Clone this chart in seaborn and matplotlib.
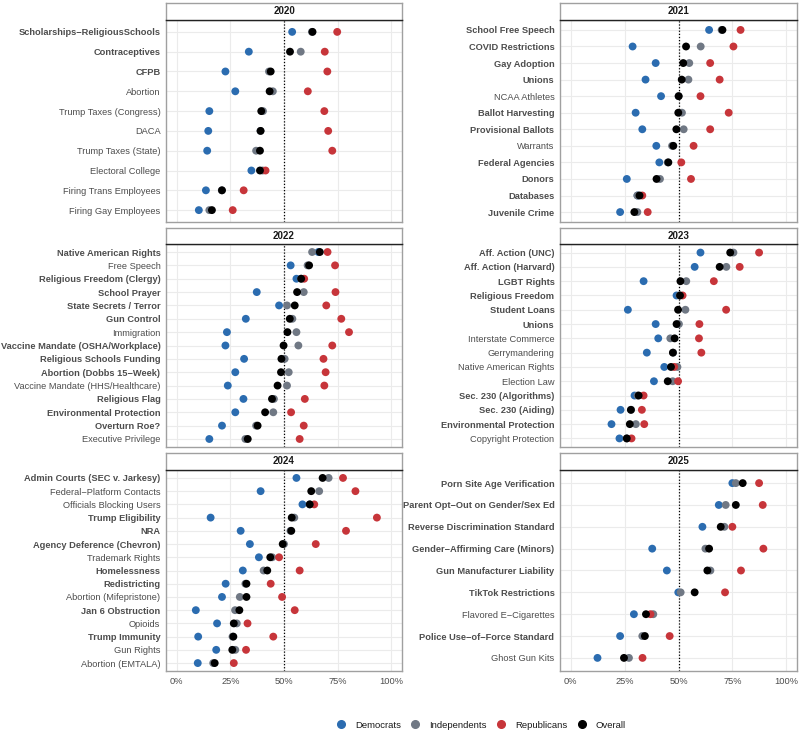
import numpy as np
import pandas as pd
import matplotlib
matplotlib.use("Agg")
import matplotlib.pyplot as plt
from matplotlib.lines import Line2D
import seaborn as sns

sns.set_style("white")
plt.rcParams['font.family'] = ['Liberation Sans', 'DejaVu Sans']

# ---- data (share supporting, %), items listed top to bottom ----
cases_2020 = ["Scholarships\u2212ReligiousSchools", "Contraceptives", "CFPB", "Abortion",
              "Trump Taxes (Congress)", "DACA", "Trump Taxes (State)", "Electoral College",
              "Firing Trans Employees", "Firing Gay Employees"]
bold_2020 = [1, 1, 1, 0, 0, 0, 0, 0, 0, 0]
dem_2020 = [53.8, 33.6, 22.7, 27.3, 15.2, 14.7, 14.2, 34.8, 13.6, 10.3]
ind_2020 = [63.0, 57.8, 43.0, 44.8, 40.2, 39.0, 37.0, 40.0, 21.0, 15.2]
rep_2020 = [74.8, 69.0, 70.2, 61.1, 68.8, 70.6, 72.5, 41.4, 31.2, 26.1]
all_2020 = [63.3, 52.8, 43.8, 43.3, 39.4, 39.1, 38.8, 38.8, 21.1, 16.4]

cases_2021 = ["School Free Speech", "COVID Restrictions", "Gay Adoption", "Unions",
              "NCAA Athletes", "Ballot Harvesting", "Provisional Ballots", "Warrants",
              "Federal Agencies", "Donors", "Databases", "Juvenile Crime"]
bold_2021 = [1, 1, 1, 1, 0, 1, 1, 0, 1, 1, 1, 1]
dem_2021 = [64.2, 28.7, 39.4, 34.7, 41.9, 30.1, 33.2, 39.7, 41.1, 26.0, 31.0, 22.9]
ind_2021 = [70.0, 60.3, 55.0, 54.6, 50.0, 51.6, 52.4, 47.0, 45.0, 41.4, 30.9, 30.9]
rep_2021 = [78.8, 75.5, 64.7, 69.1, 60.2, 73.3, 64.7, 57.0, 51.3, 55.8, 33.2, 35.7]
all_2021 = [70.4, 53.5, 52.2, 51.5, 50.1, 49.9, 49.0, 47.6, 45.3, 39.8, 31.9, 29.5]

cases_2022 = ["Native American Rights", "Free Speech", "Religious Freedom (Clergy)",
              "School Prayer", "State Secrets / Terror", "Gun Control", "Immigration",
              "Vaccine Mandate (OSHA/Workplace)", "Religious Schools Funding",
              "Abortion (Dobbs 15\u2212Week)", "Vaccine Mandate (HHS/Healthcare)",
              "Religious Flag", "Environmental Protection", "Overturn Roe?",
              "Executive Privilege"]
bold_2022 = [1, 0, 1, 1, 1, 1, 0, 1, 1, 1, 0, 1, 1, 1, 0]
dem_2022 = [66.0, 53.1, 55.8, 37.3, 47.7, 32.2, 23.4, 22.7, 31.4, 27.3, 23.8, 31.1, 27.3, 21.1, 15.2]
ind_2022 = [63.1, 61.0, 58.0, 59.2, 51.4, 53.9, 55.8, 56.7, 50.3, 52.2, 51.4, 45.3, 45.0, 37.0, 32.0]
rep_2022 = [70.3, 73.8, 59.4, 74.0, 69.7, 76.7, 80.3, 72.5, 68.4, 69.4, 68.8, 59.7, 53.3, 59.2, 57.3]
all_2022 = [66.7, 61.7, 58.0, 56.1, 55.0, 52.7, 51.6, 49.8, 48.8, 48.6, 47.0, 44.4, 41.2, 37.7, 33.1]

cases_2023 = ["Aff. Action (UNC)", "Aff. Action (Harvard)", "LGBT Rights", "Religious Freedom",
              "Student Loans", "Unions", "Interstate Commerce", "Gerrymandering",
              "Native American Rights", "Election Law", "Sec. 230 (Algorithms)",
              "Sec. 230 (Aiding)", "Environmental Protection", "Copyright Protection"]
bold_2023 = [1, 1, 1, 1, 1, 1, 0, 0, 0, 0, 1, 1, 1, 0]
dem_2023 = [60.2, 57.5, 33.8, 49.1, 26.5, 39.4, 40.6, 35.3, 43.4, 38.6, 29.6, 23.1, 18.9, 22.6]
ind_2023 = [75.5, 72.2, 53.6, 50.5, 53.2, 50.2, 46.2, 47.5, 49.5, 47.3, 31.0, 28.0, 30.2, 26.0]
rep_2023 = [87.4, 78.4, 66.4, 51.9, 72.1, 59.7, 59.5, 60.6, 48.0, 49.8, 33.8, 33.0, 34.1, 28.2]
all_2023 = [74.0, 69.1, 50.9, 50.7, 49.8, 49.1, 48.2, 47.4, 46.5, 45.0, 31.5, 27.9, 27.4, 26.0]

cases_2024 = ["Admin Courts (SEC v. Jarkesy)", "Federal\u2212Platform Contacts",
              "Officials Blocking Users", "Trump Eligibility", "NRA",
              "Agency Deference (Chevron)", "Trademark Rights", "Homelessness",
              "Redistricting", "Abortion (Mifepristone)", "Jan 6 Obstruction", "Opioids",
              "Trump Immunity", "Gun Rights", "Abortion (EMTALA)"]
bold_2024 = [1, 0, 0, 1, 1, 1, 0, 1, 1, 0, 1, 0, 1, 0, 0]
dem_2024 = [55.8, 39.1, 58.6, 15.8, 29.8, 34.1, 38.3, 30.8, 22.8, 21.1, 8.9, 18.8, 10.0, 18.4, 9.8]
ind_2024 = [70.8, 66.4, 62.0, 54.8, 53.0, 50.0, 44.5, 40.5, 32.0, 29.4, 27.2, 28.0, 26.0, 27.3, 17.0]
rep_2024 = [77.5, 83.3, 64.1, 93.3, 78.9, 64.8, 47.7, 57.3, 43.8, 49.1, 55.0, 33.0, 45.0, 32.3, 26.6]
all_2024 = [68.0, 62.7, 62.0, 53.6, 53.4, 49.4, 43.6, 42.2, 32.5, 32.5, 29.2, 26.6, 26.4, 25.9, 17.7]

cases_2025 = ["Porn Site Age Verification", "Parent Opt\u2212Out on Gender/Sex Ed",
              "Reverse Discrimination Standard", "Gender\u2212Affirming Care (Minors)",
              "Gun Manufacturer Liability", "TikTok Restrictions", "Flavored E\u2212Cigarettes",
              "Police Use\u2212of\u2212Force Standard", "Ghost Gun Kits"]
bold_2025 = [1, 1, 1, 1, 1, 1, 0, 1, 0]
dem_2025 = [75.0, 68.7, 61.1, 37.8, 44.6, 49.9, 29.3, 22.9, 12.4]
ind_2025 = [76.6, 71.9, 71.3, 62.5, 64.8, 51.0, 38.3, 33.2, 27.0]
rep_2025 = [87.4, 89.1, 75.0, 89.4, 79.0, 71.6, 37.0, 45.9, 33.3]
all_2025 = [79.8, 76.6, 69.6, 64.2, 63.4, 57.5, 34.9, 34.4, 24.7]

years = [2020, 2021, 2022, 2023, 2024, 2025]
panels = {
    2020: (cases_2020, bold_2020, dem_2020, ind_2020, rep_2020, all_2020),
    2021: (cases_2021, bold_2021, dem_2021, ind_2021, rep_2021, all_2021),
    2022: (cases_2022, bold_2022, dem_2022, ind_2022, rep_2022, all_2022),
    2023: (cases_2023, bold_2023, dem_2023, ind_2023, rep_2023, all_2023),
    2024: (cases_2024, bold_2024, dem_2024, ind_2024, rep_2024, all_2024),
    2025: (cases_2025, bold_2025, dem_2025, ind_2025, rep_2025, all_2025),
}
groups = ["Democrats", "Independents", "Republicans", "Overall"]
palette = {"Democrats": "#2B6CB0", "Independents": "#707884",
           "Republicans": "#C7353A", "Overall": "#000000"}

W, H = 800, 733
fig = plt.figure(figsize=(8, 7.33), dpi=100)

col_x = [(166, 402), (560, 797)]
rows = [(3, 20, 222), (228, 244, 447), (453, 470, 671)]  # strip top, strip bottom, panel bottom
txt = "#4D4D4D"

for k, yr in enumerate(years):
    r, c = divmod(k, 2)
    x0, x1 = col_x[c]
    s0, s1, p1 = rows[r]
    cases, bold, dem, ind, rep, ov = panels[yr]
    n = len(cases)
    pos = [n - 1 - i for i in range(n)]
    df = pd.concat([pd.DataFrame({"case": cases, "y": pos, "value": v, "group": g})
                    for g, v in zip(groups, [dem, ind, rep, ov])], ignore_index=True)

    ax = fig.add_axes([x0 / W, 1 - p1 / H, (x1 - x0) / W, (p1 - s1) / H])
    for yy in pos:
        ax.axhline(yy, color="#EBEBEB", lw=0.8, zorder=0)
    for xx in [0, 25, 50, 75, 100]:
        ax.axvline(xx, color="#EBEBEB", lw=0.8, zorder=0)
    ax.axvline(50, color="black", lw=0.9, ls=(0, (1, 1.5)), zorder=1)
    sns.scatterplot(data=df, x="value", y="y", hue="group", hue_order=groups,
                    palette=palette, s=32, linewidth=0, legend=False, ax=ax, zorder=3)
    ax.set_xlim(-5, 105)
    ax.set_ylim(-0.6, n - 1 + 0.6)
    ax.set_xlabel("")
    ax.set_ylabel("")
    ax.set_yticks(pos)
    ax.set_yticklabels(cases)
    for lab, b in zip(ax.get_yticklabels(), bold):
        lab.set_fontweight("bold" if b else "normal")
    ax.set_xticks([0, 25, 50, 75, 100])
    if r == 2:
        ax.set_xticklabels(["0%", "25%", "50%", "75%", "100%"])
    else:
        ax.set_xticklabels([])
        ax.tick_params(axis="x", length=0)
    ax.tick_params(axis="both", labelsize=6.7, labelcolor=txt, color="#555555",
                   length=2.5, width=0.6, pad=1.5)
    for sp in ax.spines.values():
        sp.set_color("#A0A0A0")
        sp.set_linewidth(1.0)

    st = fig.add_axes([x0 / W, 1 - s1 / H, (x1 - x0) / W, (s1 - s0) / H])
    st.set_xticks([])
    st.set_yticks([])
    for sp in st.spines.values():
        sp.set_color("#A0A0A0")
        sp.set_linewidth(1.0)
    st.spines["bottom"].set_color("#222222")
    st.text(0.5, 0.5, str(yr), ha="center", va="center", fontsize=7,
            fontweight="bold", color="#1A1A1A", transform=st.transAxes)

handles = [Line2D([0], [0], marker="o", ls="", color=palette[g], markersize=5.5, label=g)
           for g in groups]
fig.legend(handles=handles, loc="center", ncol=4, frameon=False, fontsize=6.8,
           bbox_to_anchor=(481 / W, 1 - 725 / H), handlelength=1.0, handletextpad=1.0,
           columnspacing=1.0, labelcolor="#1A1A1A")

fig.savefig("out.png", dpi=100)
